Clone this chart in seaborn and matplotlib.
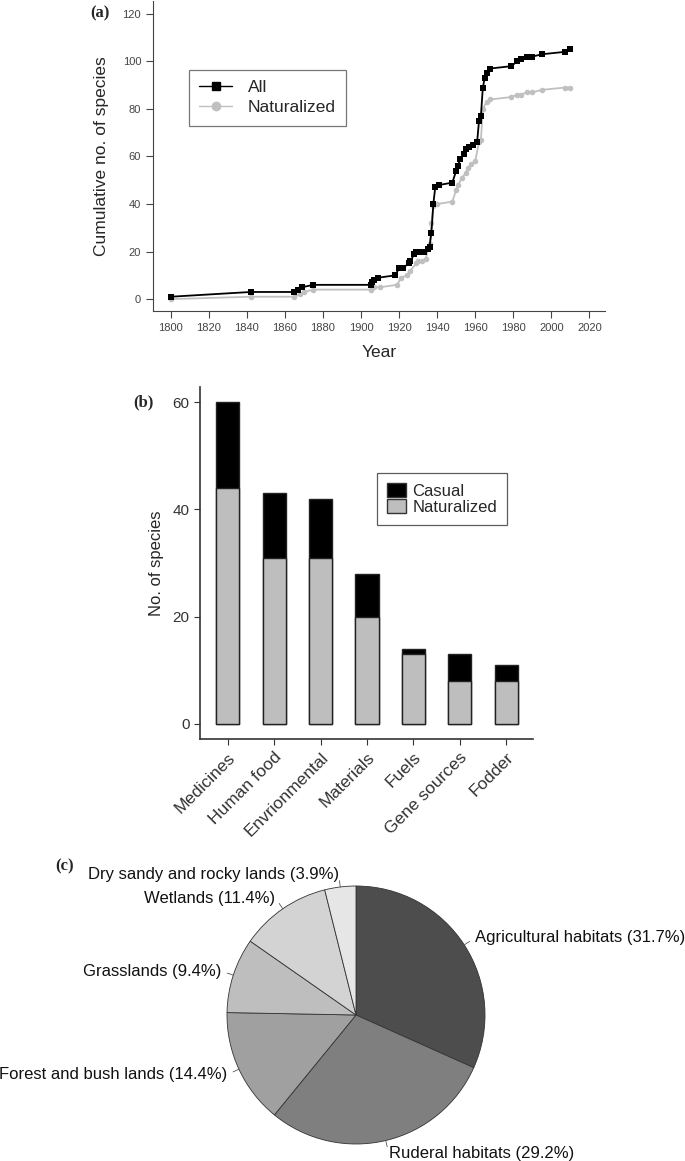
import matplotlib
matplotlib.use('Agg')
import matplotlib.pyplot as plt
import seaborn as sns
from matplotlib.lines import Line2D
from matplotlib.patches import Patch
import numpy as np

# (a) cumulative number of species over time
all_years = [1800, 1842, 1865, 1867, 1869, 1875, 1905, 1906, 1907, 1909, 1918, 1920, 1922,
             1925, 1926, 1928, 1929, 1931, 1933, 1935, 1936, 1937, 1938, 1939, 1941, 1948,
             1950, 1951, 1952, 1954, 1955, 1957, 1959, 1961, 1962, 1963, 1964, 1965, 1966,
             1968, 1979, 1982, 1984, 1987, 1990, 1995, 2007, 2010]
all_counts = [1, 3, 3, 4, 5, 6, 6, 7, 8, 9, 10, 13, 13,
              15, 16, 19, 20, 20, 20, 21, 22, 28, 40, 47, 48, 49,
              54, 56, 59, 61, 63, 64, 65, 66, 75, 77, 89, 93, 95,
              97, 98, 100, 101, 102, 102, 103, 104, 105]

nat_years = [1800, 1842, 1865, 1868, 1870, 1875, 1905, 1907, 1910, 1919, 1921, 1924, 1926,
             1929, 1930, 1932, 1934, 1936, 1937, 1938, 1940, 1948, 1950, 1951, 1953, 1955,
             1956, 1958, 1960, 1962, 1963, 1964, 1966, 1968, 1979, 1982, 1984, 1987, 1990,
             1995, 2007, 2010]
nat_counts = [0, 1, 1, 2, 3, 4, 4, 5, 5, 6, 9, 10, 12,
              15, 16, 16, 17, 23, 32, 39, 40, 41, 46, 48, 51, 53,
              55, 57, 58, 66, 67, 80, 83, 84, 85, 86, 86, 87, 87,
              88, 89, 89]

# (b) species per use category
uses = ['Medicines', 'Human food', 'Envrionmental', 'Materials', 'Fuels', 'Gene sources', 'Fodder']
use_total = [60, 43, 42, 28, 14, 13, 11]
use_naturalized = [44, 31, 31, 20, 13, 8, 8]

# (c) habitat shares
habitats = ['Agricultural habitats', 'Ruderal habitats', 'Forest and bush lands',
            'Grasslands', 'Wetlands', 'Dry sandy and rocky lands']
habitat_pct = [31.7, 29.2, 14.4, 9.4, 11.4, 3.9]
habitat_colors = ['#4d4d4d', '#7f7f7f', '#a0a0a0', '#bebebe', '#d3d3d3', '#e6e6e6']

sns.set_style('ticks')
plt.rcParams['font.family'] = ['Liberation Sans', 'DejaVu Sans']

W, H = 685, 1161
fig = plt.figure(figsize=(W / 100, H / 100), dpi=100)


def box(l, t, r, b):
    return [l / W, 1 - b / H, (r - l) / W, (b - t) / H]


# ---- panel (a)
ax1 = fig.add_axes(box(153, 1, 605, 311))
sns.lineplot(x=nat_years, y=nat_counts, ax=ax1, color='#c0c0c0', marker='o', markersize=4,
             markeredgewidth=0, linewidth=1.3, estimator=None, sort=False)
sns.lineplot(x=all_years, y=all_counts, ax=ax1, color='black', marker='s', markersize=4.5,
             markeredgewidth=0, linewidth=1.3, estimator=None, sort=False)
ax1.set_xlim(1790.7, 2028.2)
ax1.set_ylim(-5, 125.4)
ax1.set_xticks(range(1800, 2021, 20))
ax1.set_yticks(range(0, 121, 20))
ax1.tick_params(labelsize=8, colors='#444444', length=5, width=0.8)
for s in ['left', 'bottom']:
    ax1.spines[s].set_color('#444444')
    ax1.spines[s].set_linewidth(0.8)
sns.despine(ax=ax1)
ax1.set_xlabel('Year', fontsize=12.5, labelpad=9)
ax1.set_ylabel('Cumulative no. of species', fontsize=12.5, labelpad=10)
handles = [Line2D([], [], color='black', marker='s', markersize=6, lw=1),
           Line2D([], [], color='#c0c0c0', marker='o', markersize=6, lw=1)]
leg = ax1.legend(handles, ['All', 'Naturalized'], loc='upper left', bbox_to_anchor=(0.06, 0.807),
                 fontsize=12.5, frameon=True, fancybox=False, handlelength=1.9,
                 handletextpad=0.9, labelspacing=0.3, borderpad=0.6)
leg.get_frame().set_edgecolor('#555555')
leg.get_frame().set_linewidth(0.9)

# ---- panel (b)
ax2 = fig.add_axes(box(200, 386.7, 533, 739.3))
sns.barplot(x=uses, y=use_total, ax=ax2, color='black', saturation=1, width=0.5,
            edgecolor='#222222', linewidth=1)
sns.barplot(x=uses, y=use_naturalized, ax=ax2, color='#bebebe', saturation=1, width=0.5,
            edgecolor='#222222', linewidth=1)
ax2.set_xlim(-0.6, 6.58)
ax2.set_ylim(-2.9, 62.9)
ax2.set_yticks([0, 20, 40, 60])
ax2.tick_params(axis='y', labelsize=11, colors='#333333', length=4)
ax2.tick_params(axis='x', labelsize=12.5, colors='#333333', length=4)
plt.setp(ax2.get_xticklabels(), rotation=45, ha='right', rotation_mode='anchor')
sns.despine(ax=ax2)
for s in ['left', 'bottom']:
    ax2.spines[s].set_linewidth(1.2)
    ax2.spines[s].set_color('#333333')
ax2.set_xlabel('')
ax2.set_ylabel('No. of species', fontsize=12, labelpad=6)
bh = [Patch(facecolor='black', edgecolor='#333333'), Patch(facecolor='#bebebe', edgecolor='#333333')]
leg2 = ax2.legend(bh, ['Casual', 'Naturalized'], loc='upper left', bbox_to_anchor=(0.5075, 0.778),
                  fontsize=12, frameon=True, fancybox=False, handlelength=1.1, handleheight=0.9,
                  handletextpad=0.4, labelspacing=0.0, borderpad=0.6)
leg2.get_frame().set_edgecolor('#333333')
leg2.get_frame().set_linewidth(0.9)

# ---- panel (c)
ax3 = fig.add_axes(box(356 - 129, 1015 - 129, 356 + 129, 1015 + 129))
labels = [f'{h} ({p}%)' for h, p in zip(habitats, habitat_pct)]
wedges, texts = ax3.pie(habitat_pct, labels=labels, colors=habitat_colors, startangle=90,
                        counterclock=False, labeldistance=1.1,
                        wedgeprops=dict(edgecolor='#333333', linewidth=0.6),
                        textprops=dict(fontsize=12, color='#111111'))
for w in wedges:
    ang = np.deg2rad((w.theta1 + w.theta2) / 2)
    ax3.plot([np.cos(ang), 1.05 * np.cos(ang)], [np.sin(ang), 1.05 * np.sin(ang)],
             color='#555555', lw=0.6, clip_on=False)
ax3.set_xlim(-1, 1)
ax3.set_ylim(-1, 1)

# panel letters
serif = ['Liberation Serif', 'DejaVu Serif']
fig.text(90 / W, 1 - 13 / H, '(a)', fontsize=12, fontweight='bold', family=serif, va='center')
fig.text(133 / W, 1 - 402 / H, '(b)', fontsize=12, fontweight='bold', family=serif, va='center')
fig.text(55 / W, 1 - 866 / H, '(c)', fontsize=12, fontweight='bold', family=serif, va='center')

fig.savefig('out.png', dpi=100)
